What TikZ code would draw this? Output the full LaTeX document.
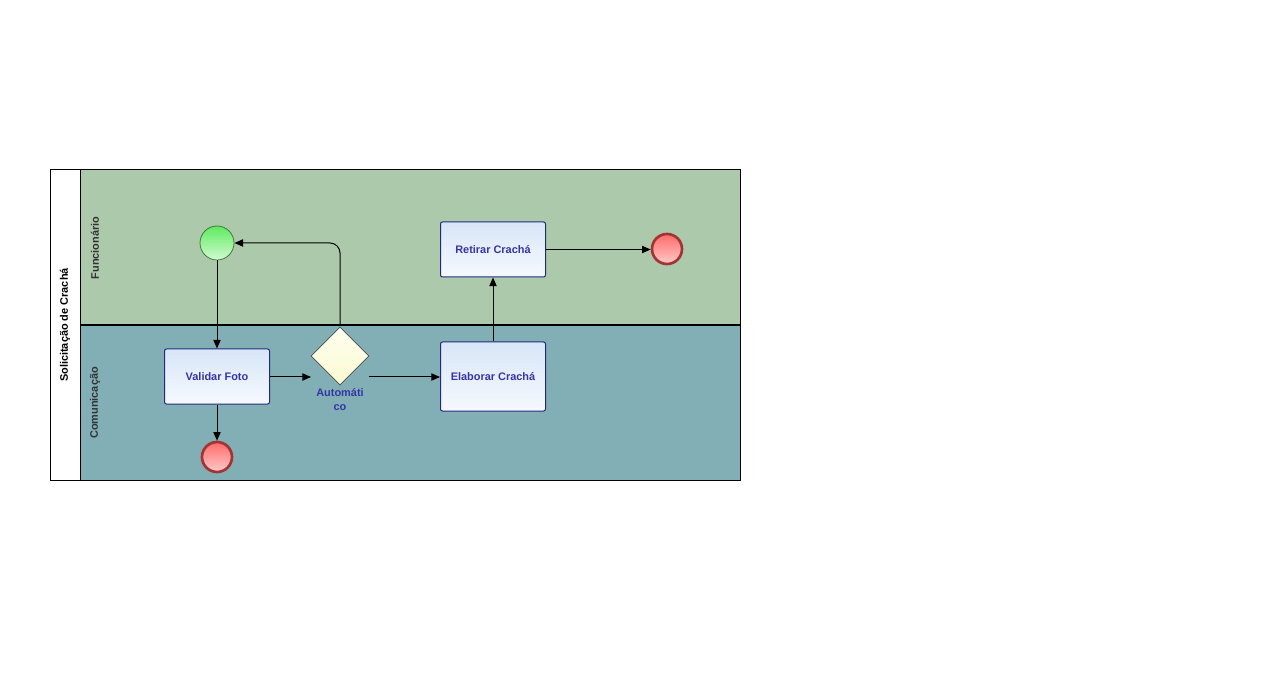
\documentclass[tikz,border=0pt]{standalone}
\usepackage{fontspec}
\setmainfont{Liberation Sans}
\usetikzlibrary{arrows.meta,shapes.geometric}
\definecolor{laneA}{HTML}{ADC9AB}
\definecolor{laneB}{HTML}{82AFB5}
\definecolor{tasktext}{HTML}{3535A5}
\definecolor{taskborder}{HTML}{1F2A80}
\definecolor{tasktop}{HTML}{D8E6F8}
\definecolor{taskbot}{HTML}{F6F9FE}
\definecolor{lanetext}{HTML}{333333}
\definecolor{endborder}{HTML}{A33434}
\definecolor{endtop}{HTML}{FF6B6B}
\definecolor{endbot}{HTML}{FFCACA}
\definecolor{starttop}{HTML}{5FEA5F}
\definecolor{startbot}{HTML}{D2FAD2}
\definecolor{startborder}{HTML}{3E7A3E}
\definecolor{gatetop}{HTML}{FFFFF0}
\definecolor{gatebot}{HTML}{FAFAD2}
\tikzset{
  x=0.75pt, y=-0.75pt,
  flow/.style={draw=black, line width=0.75pt, -{Triangle[length=6.5pt,width=5.5pt]}},
  taskbox/.style={draw=taskborder, line width=0.75pt, rounded corners=1.5pt,
    top color=tasktop, bottom color=taskbot, minimum width=78.75pt,
    font=\bfseries\fontsize{8.2}{10}\selectfont, text=tasktext},
  startev/.style={circle, draw=startborder, line width=0.6pt, minimum size=25.5pt,
    inner sep=0pt, top color=starttop, bottom color=startbot},
  endev/.style={circle, draw=endborder, line width=2pt, minimum size=22.5pt,
    inner sep=0pt, top color=endtop, bottom color=endbot},
  gate/.style={diamond, draw=black!70, line width=0.6pt, minimum size=43.5pt,
    inner sep=0pt, aspect=1, top color=gatetop, bottom color=gatebot},
  lanelabel/.style={rotate=90, font=\bfseries\fontsize{8.2}{10}\selectfont, text=lanetext},
}
\begin{document}
\begin{tikzpicture}
\useasboundingbox (0,0) rectangle (1288,673);
% pool and lanes
\fill[white] (0,0) rectangle (1288,673);
\fill[laneA] (80,170) rectangle (740,325);
\fill[laneB] (80,325) rectangle (740,480);
\draw[line width=0.75pt] (50,170) rectangle (740,480);
\draw[line width=0.75pt] (80,170) -- (80,480);
\draw[line width=1.5pt] (80,325) -- (740,325);
\node[lanelabel, text=black] (pool) at (65,325) {Solicitação de Crachá};
\node[lanelabel] (laneF) at (95,248) {Funcionário};
\node[lanelabel] (laneC) at (95,403) {Comunicação};

% flow elements
\node[startev] (start) at (217,243) {};
\node[taskbox, minimum height=41.25pt] (validar) at (217,376.5) {Validar Foto};
\node[endev] (endA) at (217,457) {};
\node[gate] (gw) at (340,356) {};
\node[font=\bfseries\fontsize{8.2}{10.5}\selectfont, text=tasktext, align=center] (gwlabel) at (340,400) {Automáti\\co};
\node[taskbox, minimum height=51.75pt] (elab) at (493,376.5) {Elaborar Crachá};
\node[taskbox, minimum height=41.25pt] (retirar) at (493,249.5) {Retirar Crachá};
\node[endev] (endB) at (667,249) {};

% connector end points at the gateway's box
\coordinate (gwin) at (311,377);
\coordinate (gwout) at (369,377);
\coordinate (gwtop) at (340,325);

% sequence flows
\draw[flow] (start) -- (validar);
\draw[flow] (validar.east |- gwin) -- (gwin);
\draw[flow] (gwout) -- (elab.west |- gwout);
\draw[flow, rounded corners=7.5pt] (gwtop) -- (gwtop |- start) -- (start);
\draw[flow] (validar) -- (endA);
\draw[flow] (elab) -- (retirar);
\draw[flow] (retirar.east) -- (endB.west |- retirar.east);
\end{tikzpicture}
\end{document}
